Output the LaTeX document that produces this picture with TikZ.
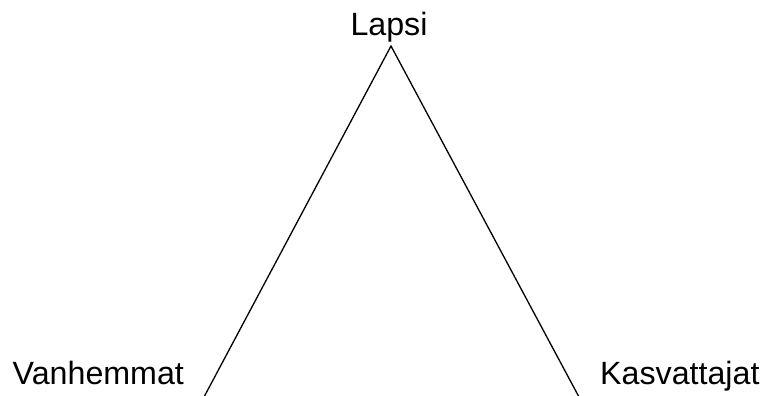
\documentclass[tikz,border=0pt]{standalone}
\usepackage{fontspec}
\setmainfont{Liberation Sans}
\begin{document}
\begin{tikzpicture}[x=1pt,y=-1pt,
  lbl/.style={inner sep=0pt,font=\fontsize{32.2}{38}\selectfont},
  edge/.style={line width=1.3pt,black}]
\useasboundingbox (0,0) rectangle (763,396);
\node[lbl,anchor=base] (lapsi) at (389,36) {Lapsi};
\node[lbl,anchor=base west] (vanh) at (12.5,384) {Vanhemmat};
\node[lbl,anchor=base west] (kasv) at (600,384) {Kasvattajat};
\coordinate (apex) at (391,46);
\coordinate (bl) at (204,397);
\coordinate (br) at (579,397);
\draw[edge] (bl) -- (apex) -- (br);
\end{tikzpicture}
\end{document}
